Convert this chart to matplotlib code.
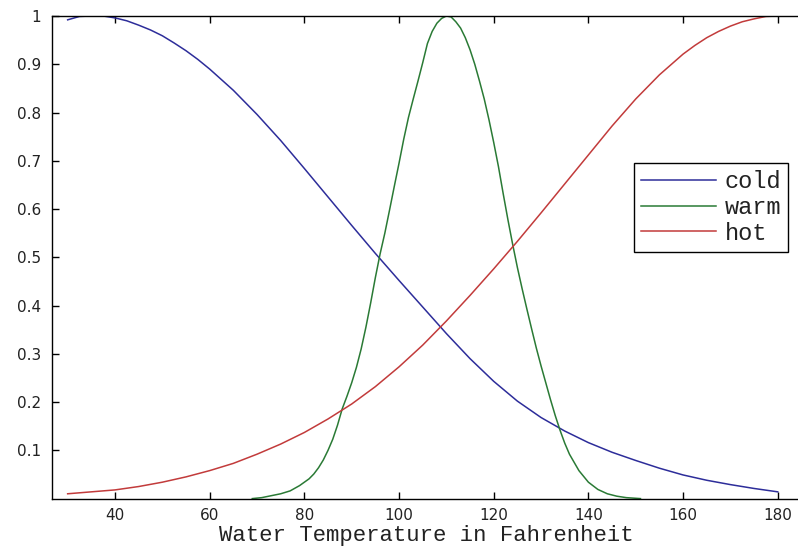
import matplotlib
matplotlib.use("Agg")
import matplotlib.pyplot as plt

# membership curves
cold_x = [30, 32.5, 35, 37.5, 40, 42.5, 45, 47.5, 50, 52.5, 55, 57.5, 60, 62.5,
          65, 70, 75, 80, 85, 90, 95, 100, 105, 110, 115, 120, 125, 130, 135,
          140, 145, 150, 155, 160, 165, 170, 175, 180]
cold_y = [0.992, 0.999, 1.0, 1.0, 0.996, 0.99, 0.981, 0.971, 0.959, 0.944,
          0.928, 0.910, 0.890, 0.868, 0.846, 0.796, 0.742, 0.684, 0.625,
          0.566, 0.508, 0.452, 0.397, 0.342, 0.29, 0.243, 0.202, 0.168,
          0.140, 0.116, 0.096, 0.079, 0.063, 0.049, 0.038, 0.029, 0.021, 0.014]

warm_x = [69, 71, 73, 75, 77, 79, 81, 82, 83, 84, 85, 86, 87, 88, 89, 90, 91,
          92, 93, 94, 95, 96, 97, 98, 99, 100, 101, 102, 103, 104, 105, 106,
          107, 108, 109, 110, 111, 112, 113, 114, 115, 116, 117, 118, 119,
          120, 121, 122, 123, 124, 125, 126, 127, 128, 129, 130, 131, 132,
          133, 134, 135, 136, 138, 140, 142, 144, 146, 148, 151]
warm_y = [0.0, 0.002, 0.006, 0.010, 0.016, 0.027, 0.041, 0.051, 0.064, 0.080,
          0.100, 0.123, 0.152, 0.186, 0.212, 0.240, 0.272, 0.310, 0.355,
          0.405, 0.458, 0.507, 0.550, 0.598, 0.647, 0.695, 0.745, 0.790,
          0.828, 0.865, 0.903, 0.943, 0.968, 0.985, 0.995, 1.0, 0.998, 0.988,
          0.975, 0.955, 0.930, 0.900, 0.865, 0.828, 0.785, 0.738, 0.688,
          0.632, 0.578, 0.527, 0.479, 0.435, 0.393, 0.352, 0.312, 0.275,
          0.240, 0.205, 0.172, 0.142, 0.115, 0.092, 0.058, 0.034, 0.019,
          0.010, 0.005, 0.002, 0.0]

hot_x = [30, 35, 40, 45, 50, 55, 60, 65, 70, 75, 80, 85, 90, 95, 100, 105, 110,
         115, 120, 125, 130, 135, 140, 145, 150, 155, 160, 162.5, 165, 167.5,
         170, 172.5, 175, 177.5, 180]
hot_y = [0.010, 0.014, 0.018, 0.025, 0.034, 0.045, 0.058, 0.073, 0.092, 0.113,
         0.137, 0.165, 0.196, 0.232, 0.273, 0.318, 0.368, 0.421, 0.476, 0.533,
         0.592, 0.652, 0.712, 0.772, 0.828, 0.878, 0.921, 0.939, 0.955, 0.968,
         0.979, 0.988, 0.994, 0.999, 1.0]

xtick_vals = [40, 60, 80, 100, 120, 140, 160, 180]
ytick_vals = [0.1, 0.2, 0.3, 0.4, 0.5, 0.6, 0.7, 0.8, 0.9, 1.0]
ytick_labels = ["0.1", "0.2", "0.3", "0.4", "0.5", "0.6", "0.7", "0.8", "0.9", "1"]

fig = plt.figure(figsize=(7.98, 5.49), dpi=100)
ax = fig.add_axes([0.0652, 0.0918, 0.9373, 0.8791])

ax.plot(cold_x, cold_y, color="#2d2d9a", lw=1.1, label="cold")
ax.plot(warm_x, warm_y, color="#2a7a35", lw=1.1, label="warm")
ax.plot(hot_x, hot_y, color="#c23b3b", lw=1.1, label="hot")

ax.set_xlim(26.7, 184.7)
ax.set_ylim(0, 1)
ax.set_xticks(xtick_vals)
ax.set_xticklabels([str(v) for v in xtick_vals])
ax.set_yticks(ytick_vals)
ax.set_yticklabels(ytick_labels)
ax.tick_params(direction="in", length=5, width=1, top=True, right=False,
               labelsize=11, color="black", labelcolor="#222222")
ax.tick_params(axis="x", pad=7)
ax.tick_params(axis="y", pad=8)
for s in ax.spines.values():
    s.set_linewidth(1.0)
    s.set_color("black")
ax.spines["right"].set_visible(False)

ax.set_xlabel("Water Temperature in Fahrenheit", family="Liberation Mono",
              fontsize=16, color="#222222")
ax.xaxis.set_label_coords(0.5, -0.0879)
ax.xaxis.label.set_va("baseline")

leg = ax.legend(loc="upper right", bbox_to_anchor=(0.984, 0.6954),
                borderaxespad=0, fancybox=False, framealpha=1,
                edgecolor="black", handlelength=3.2, handletextpad=0.35,
                labelspacing=0.12, borderpad=0.3,
                prop={"family": "Liberation Mono", "size": 17})
leg.get_frame().set_linewidth(1.0)
for t in leg.get_texts():
    t.set_color("#222222")

fig.savefig("out.png", dpi=100)
